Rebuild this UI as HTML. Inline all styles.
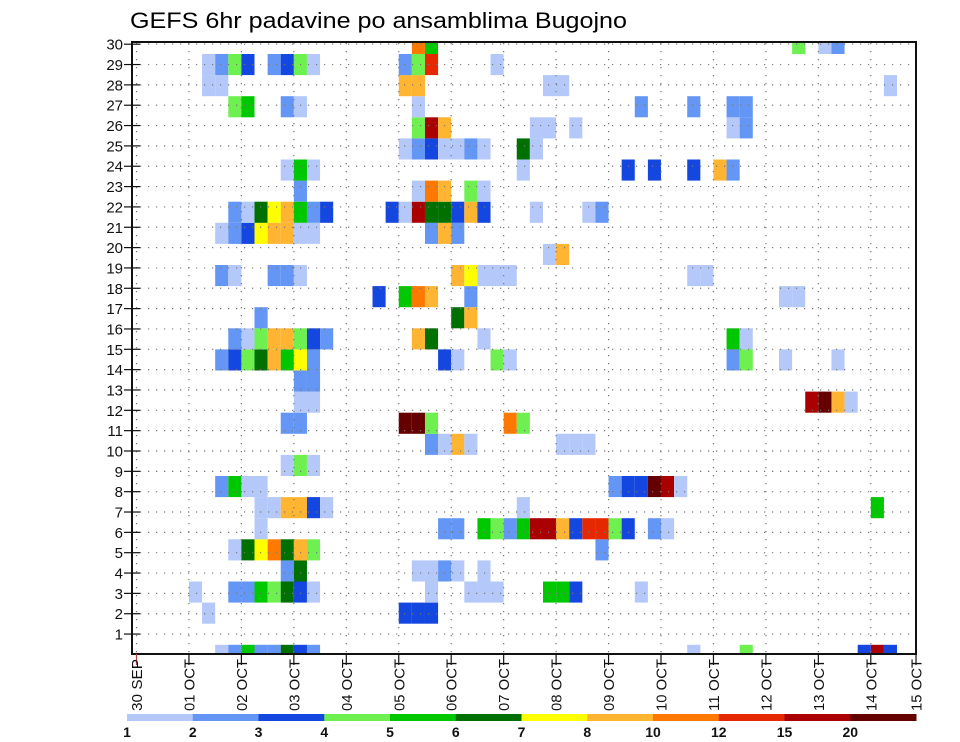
<!DOCTYPE html>
<html><head><meta charset="utf-8"><style>
html,body{margin:0;padding:0;background:#fff;}
svg{display:block;font-family:"Liberation Sans",sans-serif;}
</style></head><body>
<svg id="chart" width="960" height="742" viewBox="0 0 960 742" xmlns="http://www.w3.org/2000/svg">
<defs><clipPath id="plotclip"><rect x="132" y="43" width="784" height="611"/></clipPath></defs>
<text x="130" y="28" font-size="22" textLength="497" lengthAdjust="spacingAndGlyphs" fill="#000">GEFS 6hr padavine po ansamblima Bugojno</text>
<g id="grid"></g>
<g id="cells" clip-path="url(#plotclip)"></g>
<g id="axes"></g>
<g id="legend"></g>
</svg>
<script>
// Colour legend levels and colours
const levelLabels = [1,2,3,4,5,6,7,8,10,12,15,20];
const levelColors = ["#b4c8fa","#6496f5","#1446e0","#6ef050","#00c800","#007000","#ffff00","#ffb432","#ff7800","#e62800","#aa0000","#640000"];
// x axis day labels
const dayLabels = ["30 SEP","01 OCT","02 OCT","03 OCT","04 OCT","05 OCT","06 OCT","07 OCT","08 OCT","09 OCT","10 OCT","11 OCT","12 OCT","13 OCT","14 OCT","15 OCT"];
// y axis member labels
const memberLabels = [1,2,3,4,5,6,7,8,9,10,11,12,13,14,15,16,17,18,19,20,21,22,23,24,25,26,27,28,29,30];
// precipitation per visual ensemble row: [6h slot index, value mm]
const row29 = [[21,11],[22,5.5],[50,4.5],[52,1.5],[53,2.5]];
const row28 = [[5,1.5],[6,2.5],[7,4.5],[8,3.5],[10,2.5],[11,3.5],[12,4.5],[13,1.5],[20,2.5],[21,4.5],[22,13],[27,1.5]];
const row27 = [[5,1.5],[6,1.5],[20,9],[21,9],[31,1.5],[32,1.5],[57,1.5]];
const row26 = [[7,4.5],[8,5.5],[11,2.5],[12,1.5],[21,1.5],[38,2.5],[42,2.5],[45,2.5],[46,2.5]];
const row25 = [[21,4.5],[22,17],[23,9],[30,1.5],[31,1.5],[33,1.5],[45,1.5],[46,2.5]];
const row24 = [[20,1.5],[21,2.5],[22,3.5],[23,1.5],[24,1.5],[25,2.5],[26,1.5],[29,6.5],[30,1.5]];
const row23 = [[11,1.5],[12,5.5],[13,1.5],[29,1.5],[37,3.5],[39,3.5],[42,3.5],[44,9],[45,2.5]];
const row22 = [[12,2.5],[21,1.5],[22,11],[23,9],[25,4.5],[26,1.5]];
const row21 = [[7,2.5],[8,1.5],[9,6.5],[10,7.5],[11,9],[12,5.5],[13,2.5],[14,3.5],[19,3.5],[20,1.5],[21,17],[22,6.5],[23,6.5],[24,3.5],[25,9],[26,3.5],[30,1.5],[34,1.5],[35,2.5]];
const row20 = [[6,1.5],[7,2.5],[8,3.5],[9,7.5],[10,9],[11,9],[12,1.5],[13,1.5],[22,2.5],[23,9],[24,2.5]];
const row19 = [[31,1.5],[32,9]];
const row18 = [[6,2.5],[7,1.5],[10,2.5],[11,2.5],[12,1.5],[24,9],[25,7.5],[26,1.5],[27,1.5],[28,1.5],[42,1.5],[43,1.5]];
const row17 = [[18,3.5],[20,5.5],[21,11],[22,9],[25,2.5],[49,1.5],[50,1.5]];
const row16 = [[9,2.5],[24,6.5],[25,9]];
const row15 = [[7,2.5],[8,1.5],[9,4.5],[10,9],[11,9],[12,4.5],[13,3.5],[14,2.5],[21,9],[22,6.5],[26,1.5],[45,5.5],[46,1.5]];
const row14 = [[6,2.5],[7,3.5],[8,4.5],[9,6.5],[10,9],[11,5.5],[12,7.5],[13,2.5],[23,3.5],[24,1.5],[27,4.5],[28,1.5],[45,2.5],[46,4.5],[49,1.5],[53,1.5]];
const row13 = [[12,2.5],[13,2.5]];
const row12 = [[12,1.5],[13,1.5],[51,17],[52,25],[53,9],[54,1.5]];
const row11 = [[11,2.5],[12,2.5],[20,25],[21,25],[22,4.5],[28,11],[29,4.5]];
const row10 = [[22,2.5],[23,1.5],[24,9],[25,1.5],[32,1.5],[33,1.5],[34,1.5]];
const row9 = [[11,1.5],[12,4.5],[13,1.5]];
const row8 = [[6,2.5],[7,5.5],[8,1.5],[9,1.5],[36,2.5],[37,3.5],[38,3.5],[39,25],[40,17],[41,1.5]];
const row7 = [[9,1.5],[10,1.5],[11,9],[12,9],[13,3.5],[14,1.5],[29,1.5],[56,5.5]];
const row6 = [[9,1.5],[23,2.5],[24,2.5],[26,5.5],[27,4.5],[28,2.5],[29,5.5],[30,17],[31,17],[32,9],[33,3.5],[34,13],[35,13],[36,4.5],[37,3.5],[39,2.5],[40,1.5]];
const row5 = [[7,1.5],[8,6.5],[9,7.5],[10,11],[11,6.5],[12,9],[13,4.5],[35,2.5]];
const row4 = [[11,2.5],[12,6.5],[21,1.5],[22,1.5],[23,2.5],[24,1.5],[26,1.5]];
const row3 = [[4,1.5],[7,2.5],[8,2.5],[9,5.5],[10,4.5],[11,6.5],[12,3.5],[13,1.5],[22,1.5],[25,1.5],[26,1.5],[27,1.5],[31,5.5],[32,5.5],[33,3.5],[38,1.5]];
const row2 = [[5,1.5],[20,3.5],[21,3.5],[22,3.5]];
const row1 = [];
const row0 = [[6,1.5],[7,2.5],[8,5.5],[9,2.5],[10,2.5],[11,6.5],[12,3.5],[13,2.5],[42,1.5],[46,4.5],[55,3.5],[56,17],[57,3.5]];
const rows = [row0,row1,row2,row3,row4,row5,row6,row7,row8,row9,row10,row11,row12,row13,row14,row15,row16,row17,row18,row19,row20,row21,row22,row23,row24,row25,row26,row27,row28,row29];

const NS = "http://www.w3.org/2000/svg";
const X0 = 136.5, DAY = 52.45, SLOT = DAY/4;
const PL = 132, PR = 916, PT = 43, PB = 654;
function xDay(d){ return X0 + d*DAY; }
function xSlot(s){ return X0 + s*SLOT; }
function yRowTop(v){ return 54 + (28 - v)*21.1; }
const ROWH = 21.1;
function yMember(m){ return 654.4 - 20.34*m; }
function colorFor(val){
  let idx = 0;
  for (let i=0;i<levelLabels.length;i++){ if (val >= levelLabels[i]) idx = i; }
  return levelColors[idx];
}
function mk(tag, attrs, parent){
  const e = document.createElementNS(NS, tag);
  for (const k in attrs) e.setAttribute(k, attrs[k]);
  parent.appendChild(e); return e;
}
const cells = document.getElementById('cells');
const axes = document.getElementById('axes');
const legend = document.getElementById('legend');

// cells
rows.forEach((row, v) => {
  row.forEach(([s, val]) => {
    const r = mk('rect', {x: xSlot(s).toFixed(2), y: yRowTop(v).toFixed(2), width: SLOT.toFixed(2), height: ROWH, fill: colorFor(val)}, cells);
    
    
  });
});

// gridlines (drawn over cells)
const gridTop = document.createElementNS(NS,'g');
document.getElementById('chart').insertBefore(gridTop, axes);


memberLabels.forEach(m => {
  const l = mk('line', {x1: PL, x2: PR, y1: yMember(m), y2: yMember(m), stroke: '#777', 'stroke-width': 1.2, 'stroke-dasharray': '1.2,6.8'}, gridTop);
  
  
});
dayLabels.forEach((d, i) => {
  if (i > 14) return;
  const l = mk('line', {x1: xDay(i), x2: xDay(i), y1: PT, y2: PB, stroke: '#777', 'stroke-width': 1.2, 'stroke-dasharray': '1.2,6.8'}, gridTop);
  
  
});

// frame
const fr = mk('rect', {x: PL, y: PT-1, width: PR-PL, height: PB-PT+1, fill: 'none', stroke: '#111', 'stroke-width': 2}, axes);



// y ticks & labels
memberLabels.forEach(m => {
  const y = yMember(m);
  const t = mk('line', {x1: 124, x2: 140, y1: y, y2: y, stroke: '#111', 'stroke-width': 1.2}, axes);
  
  
  const tx = mk('text', {x: 123, y: y + 5.5, 'font-size': 15, 'text-anchor': 'end', fill: '#111'}, axes);
  tx.textContent = m;
  
  
});

// x ticks & labels
dayLabels.forEach((d, i) => {
  const x = Math.min(xDay(i), 916);
  const t = mk('line', {x1: x, x2: x, y1: PB, y2: 665, stroke: i===0 ? '#c04040' : '#111', 'stroke-width': 1.2}, axes);
  
  
  const tx = mk('text', {transform: `translate(${x+5.5},659) rotate(-90)`, 'font-size': 15, 'text-anchor': 'end', fill: '#111', textLength: 52, lengthAdjust: 'spacingAndGlyphs'}, axes);
  tx.textContent = d;
  
  
});

// colour legend
const LX = 127, LW = (916-127)/12;
levelColors.forEach((c, i) => {
  const r = mk('rect', {x: LX + i*LW, y: 714, width: LW+0.5, height: 7, fill: c}, legend);
  
  
});
levelLabels.forEach((lab, i) => {
  const tx = mk('text', {x: LX + i*LW, y: 737, 'font-size': 14, 'font-weight': 'bold', 'text-anchor': 'middle', fill: '#111'}, legend);
  tx.textContent = lab;
  
  
});
</script>
</body></html>
